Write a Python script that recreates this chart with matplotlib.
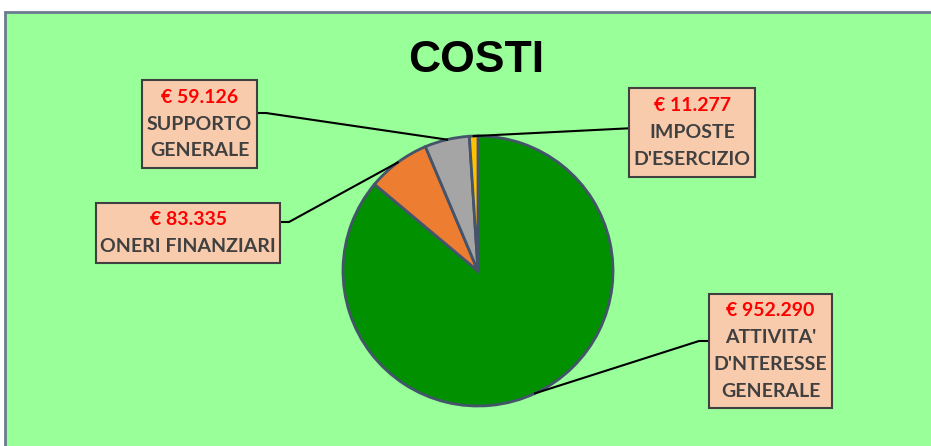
import numpy as np
import matplotlib.pyplot as plt
from matplotlib.patches import Rectangle

# data
labels = ["ATTIVITA'\nD'NTERESSE\nGENERALE", "ONERI FINANZIARI", "SUPPORTO\nGENERALE", "IMPOSTE\nD'ESERCIZIO"]
values = [952290, 83335, 59126, 11277]
colors = ["#009000", "#ED7D31", "#A5A5A5", "#FFC000"]

# label boxes in pixels (left, top, right, bottom), top-left origin
boxes = [(709, 294, 832, 408), (96, 203, 280, 263), (142, 80, 257, 168), (629, 88, 755, 177)]
# where the leader line meets the box (offset from box top), and if it has a short elbow
joins = [47, 19, 33, 34]
elbows = [True, True, True, False]

W, H = 931, 446
fig = plt.figure(figsize=(W / 100, H / 100), dpi=100)
ax = fig.add_axes([0, 0, 1, 1])

# chart area background
ax.add_patch(Rectangle((5, -5), W, H - 12 + 5, facecolor="#99FF99", edgecolor="#6B7A8F", lw=2, zorder=0))

cx, cy, r = 478, H - 271, 135
wedges, _ = ax.pie(values, colors=colors, startangle=90, counterclock=False,
                   center=(cx, cy), radius=r, frame=True,
                   wedgeprops=dict(edgecolor="#44546A", linewidth=2))
ax.set_xlim(0, W)
ax.set_ylim(0, H)
ax.set_aspect('equal')
ax.axis('off')

ax.text(476, H - 60, "COSTI", ha='center', va='center', fontsize=32, fontweight='bold',
        family=['Liberation Sans', 'DejaVu Sans'], color='black')

step = 26.7
for w, lab, v, (l, t, rr, b), j, elb in zip(wedges, labels, values, boxes, joins, elbows):
    # box
    ax.add_patch(Rectangle((l, H - b), rr - l, b - t, facecolor="#F8CBAD", edgecolor="#404040", lw=1.5, zorder=5))
    lines = [("€ " + f"{v:,}".replace(",", "."), "#FF0000")] + [(s, "#404040") for s in lab.split("\n")]
    mid = (t + b) / 2
    for i, (s, c) in enumerate(lines):
        y = mid + (i - (len(lines) - 1) / 2) * step
        ax.text((l + rr) / 2, H - y, s, ha='center', va='center', fontsize=14, fontweight='bold',
                family=['Lato', 'DejaVu Sans'], color=c, zorder=6)
    # leader line from middle of the wedge edge to the box
    ang = np.deg2rad((w.theta1 + w.theta2) / 2)
    px, py = cx + r * np.cos(ang), cy + r * np.sin(ang)
    bx, ex = (rr, rr + 9) if px < cx else (l, l - 10)
    by = H - (t + j)
    if elb:
        ax.plot([px, ex, bx], [py, by, by], color='black', lw=1.5, zorder=4)
    else:
        ax.plot([px, bx], [py, by], color='black', lw=1.5, zorder=4)

fig.savefig("out.png", dpi=100)
